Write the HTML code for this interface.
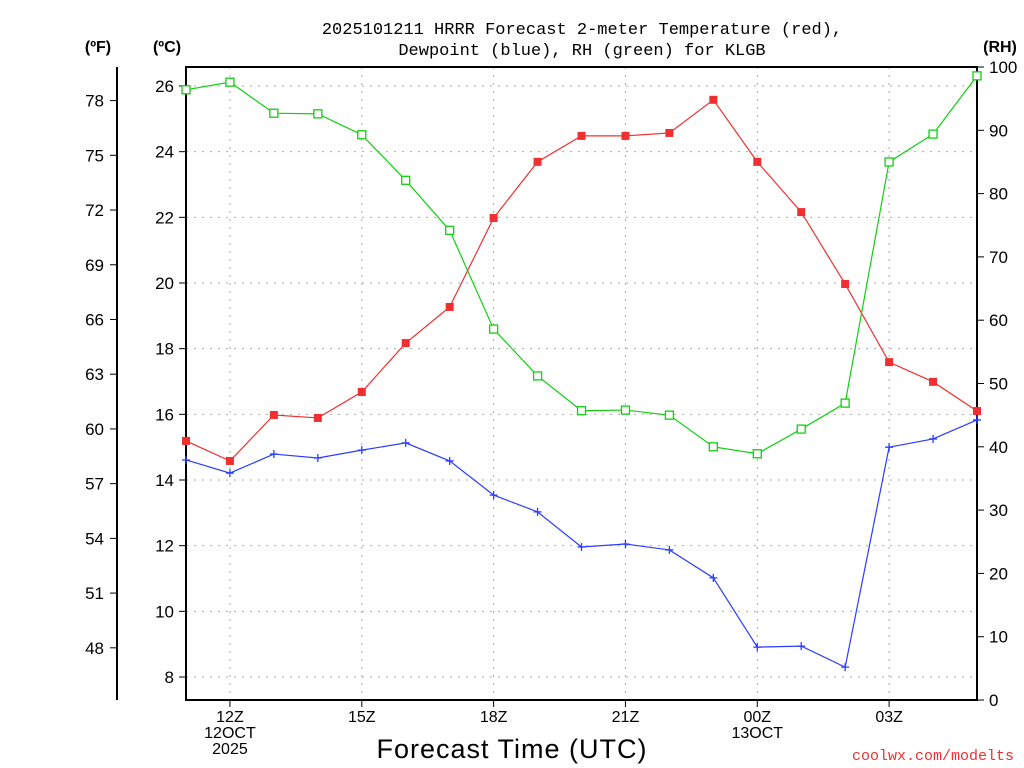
<!DOCTYPE html>
<html><head><meta charset="utf-8"><style>
html,body{margin:0;padding:0;background:#fff;}
svg{display:block;font-family:"Liberation Sans",sans-serif;}
</style></head><body>
<svg id="chart" width="1024" height="768" viewBox="0 0 1024 768">
<rect width="1024" height="768" fill="#fff"/>
<g id="grid"></g>
<g id="axes"></g>
<g id="series"></g>
<text x="582" y="34" font-size="17" text-anchor="middle" font-family="Liberation Mono,monospace">2025101211 HRRR Forecast 2-meter Temperature (red),</text>
<text x="582" y="55" font-size="17" text-anchor="middle" font-family="Liberation Mono,monospace">Dewpoint (blue), RH (green) for KLGB</text>
<text x="98" y="52" font-size="16" font-weight="bold" text-anchor="middle">(ºF)</text>
<text x="167" y="52" font-size="16" font-weight="bold" text-anchor="middle">(ºC)</text>
<text x="1000" y="52" font-size="16" font-weight="bold" text-anchor="middle">(RH)</text>
<text x="512" y="758" font-size="27" text-anchor="middle" letter-spacing="1">Forecast Time (UTC)</text>
<text x="1014" y="760" font-size="15" fill="#f03030" text-anchor="end" font-family="Liberation Mono,monospace">coolwx.com/modelts</text>
</svg>
<script>
const hours=["11Z","12Z","13Z","14Z","15Z","16Z","17Z","18Z","19Z","20Z","21Z","22Z","23Z","00Z","01Z","02Z","03Z","04Z","05Z"];
const tempC=[15.19,14.58,15.98,15.89,16.68,18.17,19.27,21.98,23.69,24.48,24.48,24.57,25.58,23.69,22.16,19.97,17.59,16.99,16.10];
const dewC=[14.61,14.21,14.79,14.67,14.91,15.13,14.58,13.54,13.03,11.96,12.05,11.87,11.02,8.91,8.94,8.30,15.0,15.25,15.83];
const rh=[96.4,97.6,92.7,92.6,89.3,82.1,74.2,58.6,51.2,45.7,45.8,45.0,40.0,38.9,42.8,46.9,85.0,89.4,98.6];
const cTicks=[8,10,12,14,16,18,20,22,24,26];
const fTicks=[48,51,54,57,60,63,66,69,72,75,78];
const rhTicks=[0,10,20,30,40,50,60,70,80,90,100];
const xLabelIdx=[1,4,7,10,13,16];
const xLabels=[["12Z","12OCT","2025"],["15Z"],["18Z"],["21Z"],["00Z","13OCT"],["03Z"]];

const L=186,R=977,T=67,B=700;
const NS="http://www.w3.org/2000/svg";
const xS=i=>L+i*(R-L)/(hours.length-1);
const yC=c=>677-(c-8)*(677-86)/18;
const yF=f=>yC((f-32)*5/9);
const yRH=v=>B-v*(B-T)/100;
function mk(tag,attrs,parent,txt){const e=document.createElementNS(NS,tag);for(const k in attrs)e.setAttribute(k,attrs[k]);if(txt!==undefined)e.textContent=txt;parent.appendChild(e);return e;}
const grid=document.getElementById('grid'),axes=document.getElementById('axes'),ser=document.getElementById('series');
// grid
cTicks.forEach(c=>{const g=mk('line',{x1:L,x2:R,y1:yC(c),y2:yC(c),stroke:'#aaa','stroke-dasharray':'2,6'},grid);

});
xLabelIdx.forEach(i=>{const g=mk('line',{x1:xS(i),x2:xS(i),y1:T,y2:B,stroke:'#aaa','stroke-dasharray':'2,6'},grid);

});
// frame
const fr=mk('rect',{x:L,y:T,width:R-L,height:B-T,fill:'none',stroke:'#000','stroke-width':2},axes);


const fl=mk('line',{x1:117,x2:117,y1:T,y2:B,stroke:'#000','stroke-width':2},axes);


cTicks.forEach(c=>{mk('line',{x1:L-7,x2:L,y1:yC(c),y2:yC(c),stroke:'#000'},axes);
const t=mk('text',{x:L-12,y:yC(c)+6,'font-size':17,'text-anchor':'end'},axes,c);

});
fTicks.forEach(f=>{mk('line',{x1:110,x2:117,y1:yF(f),y2:yF(f),stroke:'#000'},axes);
const t=mk('text',{x:104,y:yF(f)+6,'font-size':17,'text-anchor':'end'},axes,f);

});
rhTicks.forEach(v=>{mk('line',{x1:R,x2:R+7,y1:yRH(v),y2:yRH(v),stroke:'#000'},axes);
const t=mk('text',{x:R+12,y:yRH(v)+6,'font-size':17},axes,v);

});
xLabelIdx.forEach((i,k)=>{mk('line',{x1:xS(i),x2:xS(i),y1:B,y2:B+7,stroke:'#000'},axes);
xLabels[k].forEach((s,j)=>{const t=mk('text',{x:xS(i),y:B+22+j*16,'font-size':16,'text-anchor':'middle'},axes,s);

});});
// series
function line(vals,yf,col,name){const p=mk('polyline',{points:vals.map((v,i)=>xS(i)+','+yf(v)).join(' '),fill:'none',stroke:col,'stroke-width':1.2},ser);

}
line(tempC,yC,'#f03030','temperature-line');
line(dewC,yC,'#2a3cff','dewpoint-line');
line(rh,yRH,'#10d010','rh-line');
tempC.forEach((v,i)=>{const m=mk('rect',{x:xS(i)-4,y:yC(v)-4,width:8,height:8,fill:'#f03030'},ser);

});
dewC.forEach((v,i)=>{const m=mk('path',{d:`M${xS(i)-4},${yC(v)}h8M${xS(i)},${yC(v)-4}v8`,stroke:'#2a3cff','stroke-width':1.3},ser);

});
rh.forEach((v,i)=>{const m=mk('rect',{x:xS(i)-4,y:yRH(v)-4,width:8,height:8,fill:'#fff',stroke:'#10d010','stroke-width':1.3},ser);

});
</script>
</body></html>
